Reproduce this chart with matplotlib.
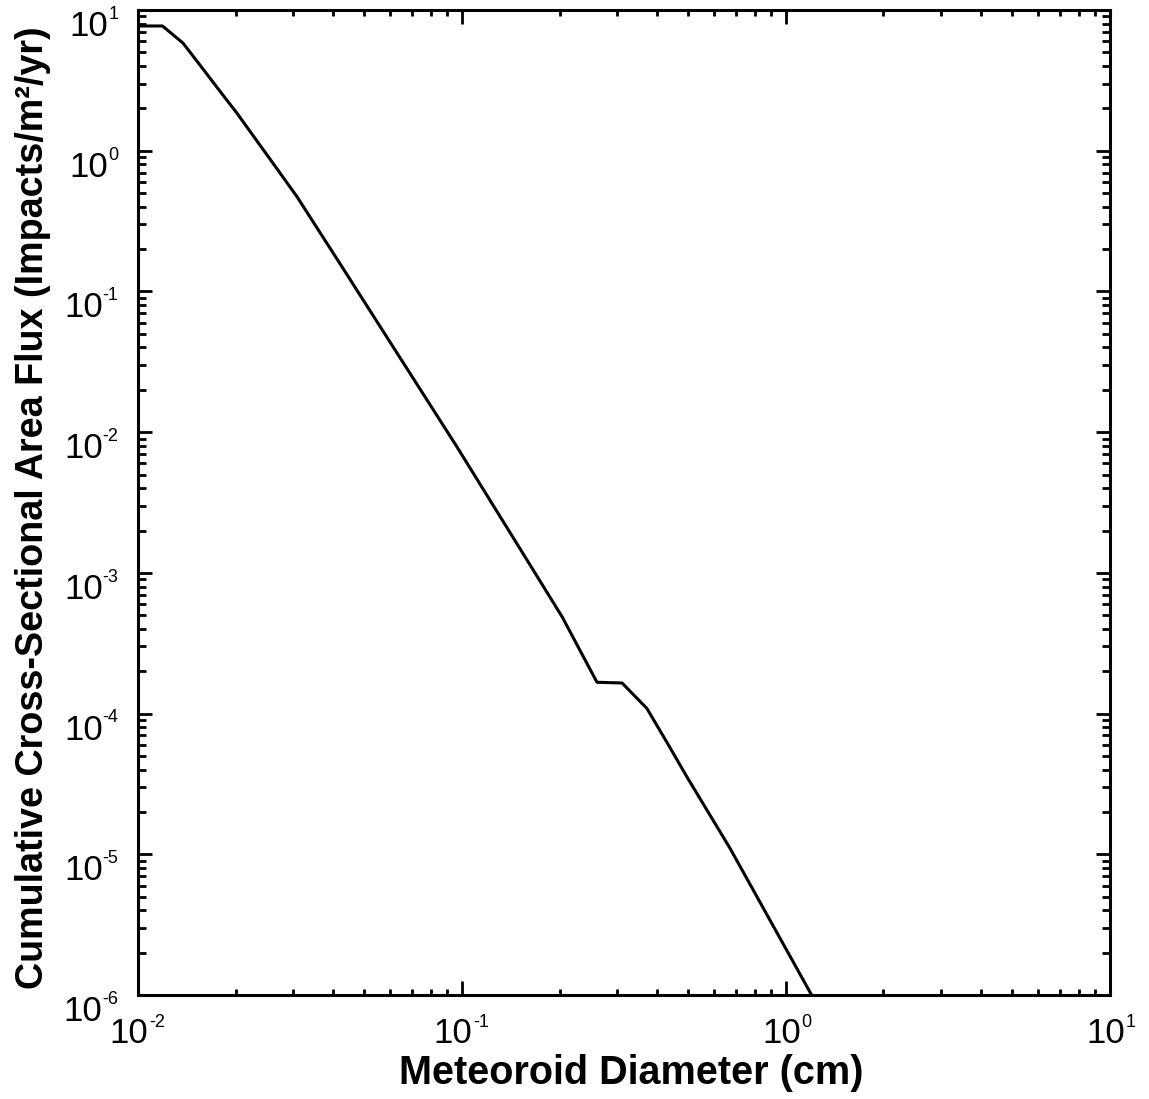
import matplotlib
matplotlib.use("Agg")
import matplotlib.pyplot as plt
from matplotlib.ticker import LogLocator, NullFormatter, FixedLocator

plt.rcParams["font.family"] = ["Liberation Sans", "DejaVu Sans"]

# ── Data ──
diameter_cm = [0.0101, 0.0119, 0.01377, 0.0155, 0.0179, 0.0202, 0.0233, 0.0269,
               0.0310, 0.0365, 0.0430, 0.0474, 0.0966, 0.168, 0.204, 0.261,
               0.312, 0.372, 0.430, 0.495, 0.671, 1.20]
flux = [7.7, 7.7, 5.82, 4.09, 2.65, 1.85, 1.171, 0.740,
        0.469, 0.261, 0.145, 0.102, 7.83e-3, 1.0e-3, 4.85e-4, 1.67e-4,
        1.65e-4, 1.09e-4, 6.2e-5, 3.54e-5, 1.11e-5, 1.0e-6]

x_ticks = [1e-2, 1e-1, 1e0, 1e1]
x_exponents = ["-2", "-1", "0", "1"]
y_ticks = [1e-6, 1e-5, 1e-4, 1e-3, 1e-2, 1e-1, 1e0, 1e1]
y_exponents = ["-6", "-5", "-4", "-3", "-2", "-1", "0", "1"]

fig = plt.figure(figsize=(11.49, 10.99), dpi=100)
ax = fig.add_axes([0.1201, 0.0946, 0.966 - 0.1201, 0.9909 - 0.0946])

ax.plot(diameter_cm, flux, color="black", linewidth=2.2, solid_joinstyle="round")

ax.set_xscale("log")
ax.set_yscale("log")
ax.set_xlim(1e-2, 1e1)
ax.set_ylim(1e-6, 1e1)

ax.xaxis.set_major_locator(FixedLocator(x_ticks))
ax.yaxis.set_major_locator(FixedLocator(y_ticks))
for axis in (ax.xaxis, ax.yaxis):
    axis.set_minor_locator(LogLocator(base=10, subs=range(2, 10), numticks=20))
    axis.set_minor_formatter(NullFormatter())

ax.tick_params(which="both", direction="in", top=True, right=True, width=2, colors="black",
               labelbottom=False, labelleft=False)
ax.tick_params(which="major", length=10)
ax.tick_params(axis="x", which="minor", length=4)
ax.tick_params(axis="y", which="minor", length=5.5)

# IDL-style tick labels: big "10" with a small raised exponent
BIG, SMALL = 25, 13
for v, e in zip(y_ticks, y_exponents):
    exp_txt = ax.annotate(e, xy=(0, v), xycoords=ax.get_yaxis_transform(),
                          xytext=(-14, 3), textcoords="offset points",
                          ha="right", va="top", fontsize=SMALL)
    ax.annotate("10", xy=(0, 1), xycoords=exp_txt, xytext=(0, -3),
                textcoords="offset points", ha="right", va="top", fontsize=BIG)

for v, e in zip(x_ticks, x_exponents):
    shift = 13.9 - 3.3 * len(e)
    ten = ax.annotate("10", xy=(v, 0), xycoords=ax.get_xaxis_transform(),
                      xytext=(shift, -16), textcoords="offset points",
                      ha="right", va="top", fontsize=BIG)
    ax.annotate(e, xy=(1, 1), xycoords=ten, xytext=(0.5, 2),
                textcoords="offset points", ha="left", va="top", fontsize=SMALL)

for s in ax.spines.values():
    s.set_linewidth(2.2)

ax.set_xlabel("Meteoroid Diameter (cm)", fontsize=28.5, fontweight="bold")
ax.xaxis.set_label_coords(0.508, -0.060)
ax.set_ylabel("Cumulative Cross-Sectional Area Flux (Impacts/m²/yr)",
              fontsize=27.2, fontweight="bold")
ax.yaxis.set_label_coords(-0.089, 0.495)

fig.savefig("out.png", dpi=100)
plt.close()
print("Generated: out.png")
